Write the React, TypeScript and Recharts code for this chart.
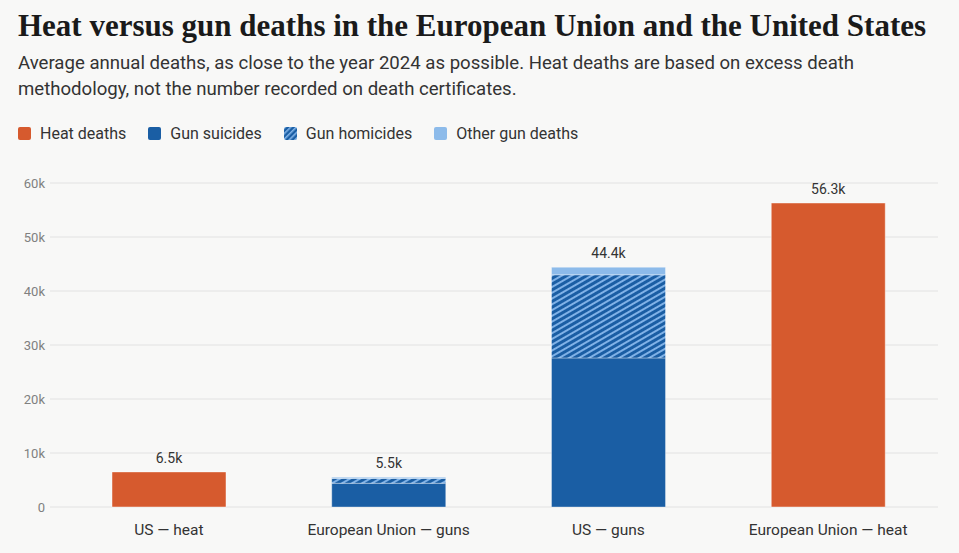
import React from 'react';
import { BarChart, Bar, XAxis, YAxis, CartesianGrid, LabelList } from 'recharts';

const categories = ['US — heat', 'European Union — guns', 'US — guns', 'European Union — heat'];
const heatDeaths = [6500, 0, 0, 56300];
const gunSuicides = [0, 4400, 27600, 0];
const gunHomicides = [0, 900, 15400, 0];
const otherGunDeaths = [0, 200, 1400, 0];
const totalLabels = ['6.5k', '5.5k', '44.4k', '56.3k'];
const yTicks = [0, 10000, 20000, 30000, 40000, 50000, 60000];

const HEAT = '#d65a2e';
const SUICIDE = '#1a5ea4';
const HOMICIDE_STRIPE = '#80b2e7';
const OTHER = '#8dbbea';

const data = categories.map((name, i) => ({
    name,
    heat: heatDeaths[i],
    suicides: gunSuicides[i],
    homicides: gunHomicides[i],
    other: otherGunDeaths[i],
    heatLabel: heatDeaths[i] > 0 ? totalLabels[i] : '',
    gunLabel: heatDeaths[i] > 0 ? '' : totalLabels[i],
}));

const legendItems = [
    { id: 'heat', label: 'Heat deaths', fill: HEAT },
    { id: 'sui', label: 'Gun suicides', fill: SUICIDE },
    { id: 'hom', label: 'Gun homicides', fill: 'url(#lgHatch)' },
    { id: 'oth', label: 'Other gun deaths', fill: OTHER },
];

const sans = 'Roboto, "Noto Sans", sans-serif';

function TotalLabel(props: any) {
    const { x, y, width, value } = props;
    if (!value) return null;
    return (
        <text x={x + width / 2} y={y - 9} textAnchor="middle" fill="#333" fontSize={14} fontFamily={sans}>
            {value}
        </text>
    );
}

export default function App() {
    return (
        <div style={{ position: 'absolute', left: 0, top: 0, width: 959, height: 553, background: '#f8f8f7', overflow: 'hidden' }}>
            <div style={{ position: 'absolute', left: 18, top: 8, fontFamily: '"Liberation Serif", serif', fontWeight: 700, fontSize: 31, color: '#1a1a1a', whiteSpace: 'nowrap' }}>
                Heat versus gun deaths in the European Union and the United States
            </div>
            <div style={{ position: 'absolute', left: 18, top: 50, fontFamily: sans, fontSize: 18.6, lineHeight: '26px', color: '#333', whiteSpace: 'nowrap' }}>
                Average annual deaths, as close to the year 2024 as possible. Heat deaths are based on excess death
                <br />
                methodology, not the number recorded on death certificates.
            </div>
            <svg width={0} height={0} style={{ position: 'absolute' }}>
                <defs>
                    <pattern id="lgHatch" patternUnits="userSpaceOnUse" width={4} height={4} patternTransform="rotate(-45)">
                        <rect width={4} height={4} fill={SUICIDE} />
                        <rect width={4} height={1.6} fill={HOMICIDE_STRIPE} />
                    </pattern>
                </defs>
            </svg>
            <div style={{ position: 'absolute', left: 18, top: 124, display: 'flex', fontFamily: sans, fontSize: 16, color: '#333' }}>
                {legendItems.map((it) => (
                    <div key={it.id} style={{ display: 'flex', alignItems: 'center', marginRight: 22 }}>
                        <svg width={13} height={13} style={{ marginRight: 9 }}>
                            <rect width={13} height={13} rx={2} fill={it.fill} />
                        </svg>
                        <span>{it.label}</span>
                    </div>
                ))}
            </div>
            <div style={{ position: 'absolute', left: 0, top: 160 }}>
                <BarChart width={959} height={393} data={data} margin={{ top: 23, right: 21, left: 0, bottom: 16 }} barSize={114}>
                    <defs>
                        <pattern id="hatch" patternUnits="userSpaceOnUse" width={5} height={5} patternTransform="rotate(-30)">
                            <rect width={5} height={5} fill={SUICIDE} />
                            <rect width={5} height={2} fill={HOMICIDE_STRIPE} />
                        </pattern>
                    </defs>
                    <CartesianGrid vertical={false} stroke="#e2e2e2" />
                    <XAxis dataKey="name" axisLine={false} tickLine={false} tickMargin={11} height={30} tick={{ fill: '#333', fontSize: 15.5, fontFamily: sans }} />
                    <YAxis
                        width={59}
                        domain={[0, 60000]}
                        ticks={yTicks}
                        axisLine={false}
                        tickSize={9}
                        tickLine={{ stroke: '#e2e2e2' }}
                        tickMargin={5}
                        tickFormatter={(v: number) => (v === 0 ? '0' : `${v / 1000}k`)}
                        tick={{ fill: '#808080', fontSize: 13, fontFamily: sans }}
                    />
                    <Bar dataKey="heat" stackId="a" fill={HEAT} stroke="rgba(255,255,255,0.45)" isAnimationActive={false}>
                        <LabelList dataKey="heatLabel" content={TotalLabel} />
                    </Bar>
                    <Bar dataKey="suicides" stackId="a" fill={SUICIDE} stroke="rgba(255,255,255,0.35)" isAnimationActive={false} />
                    <Bar dataKey="homicides" stackId="a" fill="url(#hatch)" stroke="rgba(255,255,255,0.35)" isAnimationActive={false} />
                    <Bar dataKey="other" stackId="a" fill={OTHER} stroke="rgba(255,255,255,0.35)" isAnimationActive={false}>
                        <LabelList dataKey="gunLabel" content={TotalLabel} />
                    </Bar>
                </BarChart>
            </div>
        </div>
    );
}
